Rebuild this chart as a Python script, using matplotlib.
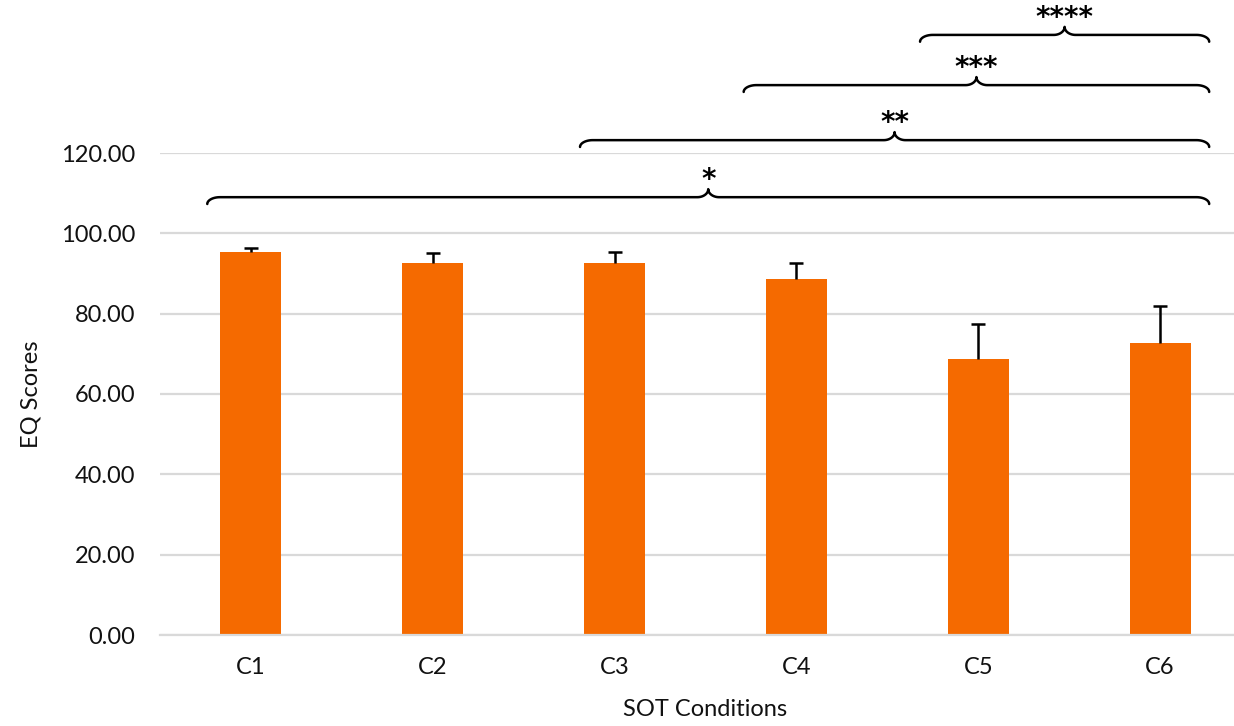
import numpy as np
import matplotlib
matplotlib.use("Agg")
from matplotlib import pyplot as plt

conditions = ['C1', 'C2', 'C3', 'C4', 'C5', 'C6']
eq_scores = [95.3, 92.6, 92.6, 88.6, 68.7, 72.7]
eq_err = [1.0, 2.5, 2.7, 4.0, 8.7, 9.2]
yticks = [0, 20, 40, 60, 80, 100, 120]

# significance braces: (start category, end category, level, label)
brace_start = [-0.24, 1.81, 2.71, 3.68]
brace_end = [5.27, 5.27, 5.27, 5.27]
brace_level = [109.0, 123.2, 136.9, 149.4]
brace_label = ['*', '**', '***', '****']

plt.rcParams['font.family'] = ['Lato', 'DejaVu Sans']

fig = plt.figure(figsize=(12.34, 7.26), dpi=100)
ax = fig.add_axes([160 / 1234, 91 / 726, 1091 / 1234, 482 / 726])

x = np.arange(len(conditions))
ax.bar(x, eq_scores, width=0.335, color='#F56A00', zorder=2)
eb = ax.errorbar(x, eq_scores, yerr=[np.zeros(len(eq_err)), eq_err], fmt='none',
                 ecolor='black', elinewidth=1.8, capsize=5, capthick=1.8, zorder=3)
eb[1][0].set_visible(False)  # no cap at the bar top

ax.set_ylim(0, 120)
ax.set_xlim(-0.5, 5.5)
ax.set_yticks(yticks)
ax.set_yticklabels(['%.2f' % v for v in yticks], fontsize=17, color='#111111')
ax.set_xticks(x)
ax.set_xticklabels(conditions, fontsize=17, color='#111111')
ax.tick_params(axis='both', length=0)
ax.tick_params(axis='y', pad=18)
ax.tick_params(axis='x', pad=16)
ax.grid(axis='y', color='#D9D9D9', lw=1.6, zorder=0)
for s in ['top', 'right', 'left']:
    ax.spines[s].set_visible(False)
ax.spines['bottom'].set_color('#D9D9D9')
ax.spines['bottom'].set_linewidth(1.6)
ax.set_ylabel('EQ Scores', fontsize=17, labelpad=14, color='#111111')
ax.set_xlabel('SOT Conditions', fontsize=17, labelpad=15, color='#111111')


def draw_brace(x0, x1, y, label):
    r_end, h_end = 0.07, 1.7
    r_tip, h_tip = 0.06, 2.0
    xm = (x0 + x1) / 2
    t = np.linspace(0, np.pi / 2, 20)
    # left end curl
    lx1 = x0 + r_end * (1 - np.cos(t))
    ly1 = y - h_end + h_end * np.sin(t)
    # left half of tip
    lx2 = xm - r_tip + r_tip * np.sin(t)
    ly2 = y + h_tip * (1 - np.cos(t))
    # right half of tip
    rx2 = xm + r_tip - r_tip * np.sin(t[::-1])
    ry2 = y + h_tip * (1 - np.cos(t[::-1]))
    # right end curl
    rx1 = x1 - r_end * (1 - np.cos(t[::-1]))
    ry1 = y - h_end + h_end * np.sin(t[::-1])
    xs = np.concatenate([lx1, lx2, rx2, rx1])
    ys = np.concatenate([ly1, ly2, ry2, ry1])
    ax.plot(xs, ys, color='black', lw=1.8, clip_on=False, solid_capstyle='round')
    ax.text(xm, y + 2.2, label, ha='center', va='baseline', fontsize=20,
            family='DejaVu Sans', fontweight='bold', clip_on=False)


for b0, b1, lv, lb in zip(brace_start, brace_end, brace_level, brace_label):
    draw_brace(b0, b1, lv, lb)

fig.savefig('out.png', dpi=100)
